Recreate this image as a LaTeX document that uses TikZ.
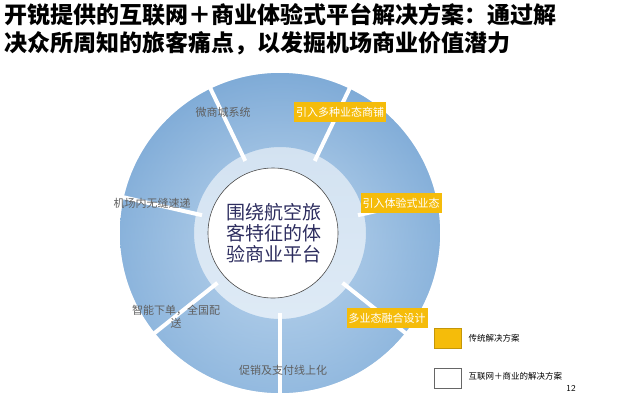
\documentclass[tikz,border=0pt]{standalone}
\usepackage{fontspec}
\usetikzlibrary{calc}
\setmainfont{Noto Sans CJK SC}
\newfontfamily\cjk{Noto Sans CJK SC}
\definecolor{ylw}{RGB}{245,188,10}
\definecolor{ringdark}{RGB}{95,150,205}
\definecolor{ringlight}{RGB}{200,222,242}
\definecolor{navy}{RGB}{45,45,95}
\definecolor{lbl}{RGB}{95,95,95}
\begin{document}
\begin{tikzpicture}[x=1pt,y=-1pt,
  ylwbox/.style={fill=ylw,text=white,font=\cjk\fontsize{11}{13}\selectfont,inner sep=2pt,minimum height=20pt},
  seglabel/.style={text=lbl,font=\cjk\fontsize{11}{13}\selectfont},
  legtext/.style={text=black,font=\cjk\fontsize{8.5}{10}\selectfont,anchor=west}]
\useasboundingbox (0,0) rectangle (623,400);
\fill[white] (0,0) rectangle (623,400);
\node[anchor=north west,inner sep=0pt,align=left,font=\cjk\bfseries\fontsize{23}{28}\selectfont] (title) at (4,3)
 {开锐提供的互联网＋商业体验式平台解决方案：通过解\\决众所周知的旅客痛点，以发掘机场商业价值潜力};
\coordinate (c) at (280,233);
\begin{scope}
 \clip (c) circle (160) (c) circle (86);
 \shade[inner color=ringlight,outer color=ringdark,even odd rule] (c) circle (160) (c) circle (86);
 \shade[top color=ringdark!60,bottom color=ringlight,opacity=0.5] (c) circle (160);
\end{scope}
\foreach \a in {90,38.57,-12.86,-64.29,-115.71,-167.14,141.43}
  \draw[white,line width=4pt] ($(c)+(\a:80)$) -- ($(c)+(\a:165)$);
\node[circle,draw=black!70,line width=0.6pt,fill=white,minimum size=130pt] (hub) at (273,233) {};
\node[align=center,text=navy,font=\cjk\fontsize{19}{21}\selectfont] (hubtxt) at (274,233) {围绕航空旅\\客特征的体\\验商业平台};
\node[seglabel] (l1) at (223,112) {微商城系统};
\node[seglabel] (l2) at (152,203) {机场内无缝速递};
\node[seglabel,align=center] (l3) at (176,317) {智能下单，全国配\\送};
\node[seglabel] (l4) at (283,370) {促销及支付线上化};
\node[ylwbox] (y1) at (340,112) {引入多种业态商铺};
\node[ylwbox] (y2) at (401,203) {引入体验式业态};
\node[ylwbox] (y3) at (387,318) {多业态融合设计};
\node[fill=ylw,draw=ylw!80!black,minimum width=27pt,minimum height=20pt,inner sep=0pt] (k1) at (448,338) {};
\node[legtext] (k1t) at (465,338) {传统解决方案};
\node[fill=white,draw=black!60,minimum width=27pt,minimum height=20pt,inner sep=0pt] (k2) at (448,378) {};
\node[legtext] (k2t) at (465,376) {互联网＋商业的解决方案};
\node[font=\sffamily\fontsize{9}{10}\selectfont] (pg) at (571,388) {12};
\end{tikzpicture}
\end{document}
